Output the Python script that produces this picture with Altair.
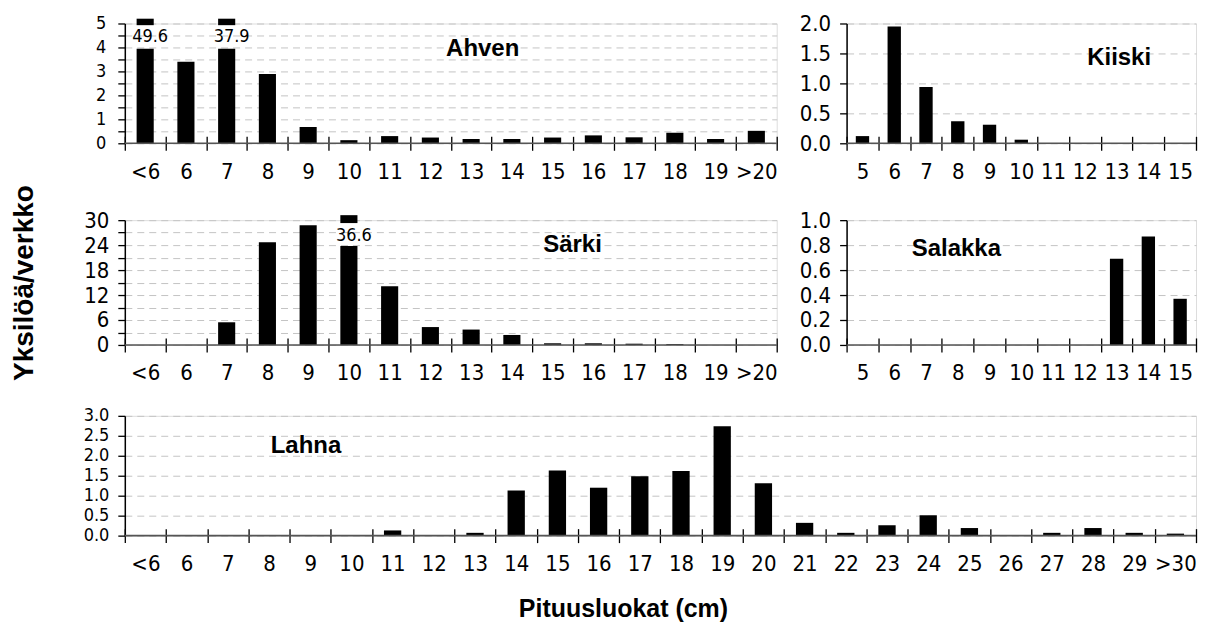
import altair as alt
import pandas as pd

# ---------------- data ----------------
AHVEN_CATS = ["<6", "6", "7", "8", "9", "10", "11", "12", "13", "14", "15", "16", "17", "18", "19", ">20"]
AHVEN_VALS = [49.6, 3.4, 37.9, 2.89, 0.68, 0.13, 0.30, 0.24, 0.18, 0.18, 0.24, 0.33, 0.25, 0.44, 0.18, 0.52]

KIISKI_CATS = ["5", "6", "7", "8", "9", "10", "11", "12", "13", "14", "15"]
KIISKI_VALS = [0.12, 1.95, 0.94, 0.37, 0.31, 0.06, 0, 0, 0, 0, 0]

SARKI_CATS = ["<6", "6", "7", "8", "9", "10", "11", "12", "13", "14", "15", "16", "17", "18", "19", ">20"]
SARKI_VALS = [0, 0, 5.45, 24.7, 28.8, 36.6, 14.1, 4.3, 3.7, 2.4, 0.4, 0.4, 0.3, 0.2, 0, 0]

SALAKKA_CATS = ["5", "6", "7", "8", "9", "10", "11", "12", "13", "14", "15"]
SALAKKA_VALS = [0, 0, 0, 0, 0, 0, 0, 0, 0.69, 0.87, 0.37]

LAHNA_CATS = ["<6", "6", "7", "8", "9", "10", "11", "12", "13", "14", "15", "16", "17",
              "18", "19", "20", "21", "22", "23", "24", "25", "26", "27", "28", "29", ">30"]
LAHNA_VALS = [0, 0, 0, 0, 0, 0, 0.13, 0, 0.07, 1.13, 1.63, 1.20, 1.49,
              1.62, 2.74, 1.31, 0.32, 0.07, 0.26, 0.51, 0.19, 0, 0.07, 0.19, 0.07, 0.05]

# off-scale bars: shown top, cap bottom, cap top, value-label position
AHVEN_BREAK = (3.95, 4.93, 5.2, 4.42)
SARKI_BREAK = (23.8, 29.3, 31.2, 26.3)

Y_TITLE = "Yksilöä/verkko"
X_TITLE = "Pituusluokat (cm)"

NARROW = "'DejaVu Sans Condensed', 'Liberation Sans Narrow', sans-serif"
BOLD = "'Liberation Sans', Arial, sans-serif"


def panel(cats, vals, dom_max, tick_step, label_every, fmt, ylab_size, ylab_pad, width, height,
          name, name_dx, name_dy, brk=None, y_title=None, x_title=None):
    df = pd.DataFrame({"cat": cats, "val": vals})
    df["y0"] = 0.0
    if brk:
        df["y1"] = [v if v <= dom_max else brk[0] for v in vals]
    else:
        df["y1"] = df["val"]

    n_ticks = int(round(dom_max / tick_step))
    ticks = [round(i * tick_step, 6) for i in range(n_ticks + 1)]
    label_expr = (f"abs(datum.value/{label_every} - round(datum.value/{label_every})) < 0.001"
                  f" ? format(datum.value, '{fmt}') : ''")

    x_axis_kw = dict(
        tickBand="extent", domain=False, offset=-7, tickSize=14, tickColor="black",
        tickWidth=1.3, labelAngle=0, labelFont=NARROW, labelFontSize=22,
        labelColor="black", labelPadding=11, grid=False, labelOverlap=False,
    )
    if x_title:
        x_axis_kw.update(title=x_title, titleFont=BOLD, titleFontSize=25, titleFontWeight="bold",
                         titleColor="black", titleX=499, titleY=80, titleAlign="center",
                         titleBaseline="middle")
    else:
        x_axis_kw.update(title=None)
    x_axis = alt.Axis(**x_axis_kw)
    xscale = alt.Scale(paddingInner=0, paddingOuter=0)

    y_axis_kw = dict(
        values=ticks, labelExpr=label_expr, labelFont=NARROW, labelFontSize=ylab_size,
        labelColor="black", labelPadding=ylab_pad, tickSize=7, tickColor="black", tickWidth=1.3,
        domainColor="black", domainWidth=1.5, grid=True, gridColor="#c4c4c4",
        gridDash=[7, 5], gridWidth=1, labelOverlap=False, labelFlush=False,
    )
    if y_title:
        y_axis_kw.update(title=y_title, titleFont=BOLD, titleFontSize=28, titleFontWeight="bold",
                         titleColor="black", titleX=-114, titleY=height / 2, titleAngle=270,
                         titleAlign="center", titleBaseline="top")
    else:
        y_axis_kw.update(title=None)
    y_axis = alt.Axis(**y_axis_kw)
    yscale = alt.Scale(domain=[0, dom_max], nice=False, zero=True)

    def X():
        return alt.X("cat:N", sort=cats, scale=xscale, axis=x_axis)

    def Y(field):
        return alt.Y(f"{field}:Q", scale=yscale, axis=y_axis)

    bar_w = alt.RelativeBandSize(0.42)
    bars = alt.Chart(df).mark_bar(color="black", width=bar_w).encode(x=X(), y=Y("y1"), y2="y0:Q")
    layers = [bars]

    if brk:
        bdf = df[df["val"] > dom_max].copy()
        bdf["y0"] = brk[1]
        bdf["y1"] = brk[2]
        bdf["lab"] = brk[3]
        caps = alt.Chart(bdf).mark_bar(color="black", clip=False, width=bar_w).encode(
            x=X(), y=Y("y1"), y2="y0:Q")
        labs = alt.Chart(bdf).mark_text(font=NARROW, fontSize=18, color="black",
                                        baseline="middle", dx=5).encode(
            x=X(), y=Y("lab"), text=alt.Text("val:Q", format=".1f"))
        layers += [caps, labs]

    base = alt.Chart(pd.DataFrame({"y1": [0.0]})).mark_rule(color="#555555", strokeWidth=1.6).encode(
        y=Y("y1"))
    layers.append(base)

    return alt.layer(*layers).properties(
        width=width, height=height,
        title=alt.TitleParams(name, anchor="middle", frame="group", dx=name_dx, dy=name_dy,
                              font=BOLD, fontSize=24, fontWeight="bold", color="black",
                              baseline="middle", offset=0),
    )


ahven = panel(AHVEN_CATS, AHVEN_VALS, 5, 0.5, 1, "d", 18, 12, 653, 120,
              "Ahven", 32, 59, brk=AHVEN_BREAK)
kiiski = panel(KIISKI_CATS, KIISKI_VALS, 2.0, 0.5, 0.5, ".1f", 22, 9, 350, 120,
               "Kiiski", 98, 70)
sarki = panel(SARKI_CATS, SARKI_VALS, 30, 3, 6, "d", 22, 9, 653, 125,
              "Särki", 122, 84, brk=SARKI_BREAK, y_title=Y_TITLE)
salakka = panel(SALAKKA_CATS, SALAKKA_VALS, 1.0, 0.2, 0.2, ".1f", 22, 9, 350, 125,
                "Salakka", -65, 64)
lahna = panel(LAHNA_CATS, LAHNA_VALS, 3.0, 0.5, 0.5, ".1f", 18, 9, 1073, 120,
              "Lahna", -355, 63, x_title=X_TITLE)

row1 = alt.hconcat(ahven, kiiski, spacing=70, bounds="flush")
row2 = alt.hconcat(sarki, salakka, spacing=70, bounds="flush")
upper = alt.vconcat(row1, row2, spacing=0)

chart = alt.vconcat(upper, lahna, spacing=21).properties(
    padding={"left": 2, "top": 3, "right": 0, "bottom": 0}
).configure_view(stroke=None).configure(background="white")

chart.save("out.html", embed_options={"renderer": "svg", "actions": False})
